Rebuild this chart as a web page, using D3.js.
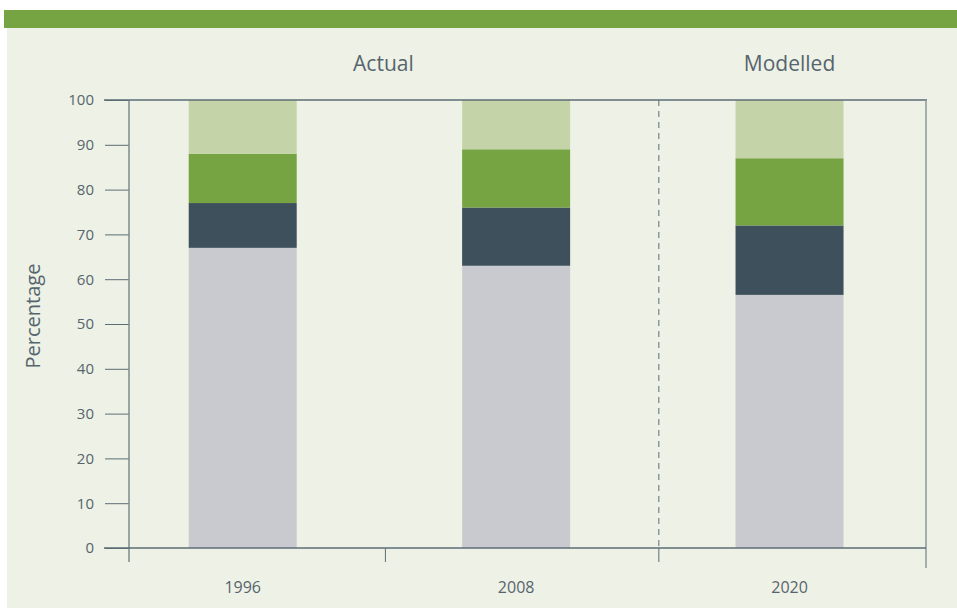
<!DOCTYPE html>
<html>
<head>
<meta charset="utf-8">
<script src="https://cdn.jsdelivr.net/npm/d3@7"></script>
<style>
  body { margin: 0; background: #fff; }
  text { font-family: "Open Sans", sans-serif; fill: #56656d; }
</style>
</head>
<body>
<div id="chart"></div>
<script>
// data
var years = ["1996", "2008", "2020"];
var layers = ["grey", "dark", "green", "light"];
var greyVals = [67, 63, 56.5];
var darkVals = [10, 13, 15.5];
var greenVals = [11, 13, 15];
var lightVals = [12, 11, 13];
var yTicks = [0, 10, 20, 30, 40, 50, 60, 70, 80, 90, 100];
var groupLabels = ["Actual", "Modelled"];

var colors = { grey: "#c9cacf", dark: "#3e505b", green: "#76a442", light: "#c5d4a8" };

var width = 957, height = 608;

var svg = d3.select("#chart")
    .append("svg")
    .attr("width", width)
    .attr("height", height);

// panel + top band
svg.append("rect").attr("x", 4).attr("y", 10).attr("width", 953).attr("height", 18).attr("fill", "#76a442");
svg.append("rect").attr("x", 7).attr("y", 28).attr("width", 950).attr("height", 580).attr("fill", "#eef1e6");

var rows = years.map(function (y, i) {
    return { year: y, grey: greyVals[i], dark: darkVals[i], green: greenVals[i], light: lightVals[i] };
});

// scales
var x = d3.scaleBand()
    .domain(years)
    .range([129, 926])
    .paddingInner(0.605)
    .paddingOuter(0.26)
    .align(0.42);

var y = d3.scaleLinear()
    .domain([0, 100])
    .range([548, 100]);

var stack = d3.stack().keys(layers)(rows);

var axisColor = "#5d6d74";

// bars
svg.append("g")
    .selectAll("g")
    .data(stack)
    .enter()
    .append("g")
    .attr("fill", function (d) { return colors[d.key]; })
    .selectAll("rect")
    .data(function (d) { return d; })
    .enter()
    .append("rect")
    .attr("x", function (d) { return x(d.data.year); })
    .attr("y", function (d) { return y(d[1]); })
    .attr("width", x.bandwidth())
    .attr("height", function (d) { return y(d[0]) - y(d[1]); });

// boundaries between the bands
var gap = x.step() * x.paddingInner();
var bounds = [x.range()[0]];
years.slice(0, -1).forEach(function (d) { bounds.push(x(d) + x.bandwidth() + gap / 2 + 6); });
bounds.push(x.range()[1]);

// dashed divider actual / modelled
svg.append("line")
    .attr("x1", bounds[2]).attr("x2", bounds[2])
    .attr("y1", y(100)).attr("y2", y(0))
    .attr("stroke", axisColor)
    .attr("stroke-width", 1)
    .attr("stroke-dasharray", "6,5");

// y axis
var yAxis = svg.append("g")
    .attr("transform", "translate(129,0)")
    .call(d3.axisLeft(y).tickValues(yTicks).tickSize(24).tickPadding(11));
yAxis.select(".domain").remove();
yAxis.selectAll(".tick line").attr("stroke", axisColor);
yAxis.selectAll(".tick text")
    .style("font-size", "15px")
    .style("font-family", "'Open Sans', sans-serif")
    .attr("fill", "#56656d");

// frame
svg.append("line").attr("x1", 129).attr("x2", 129).attr("y1", y(100)).attr("y2", 562)
    .attr("stroke", "#7d8a8f").attr("stroke-width", 1.5);
svg.append("line").attr("x1", 104).attr("x2", 927).attr("y1", y(100)).attr("y2", y(100))
    .attr("stroke", axisColor).attr("stroke-width", 1.5);
svg.append("line").attr("x1", 926).attr("x2", 926).attr("y1", y(100)).attr("y2", 568)
    .attr("stroke", "#8c979b").attr("stroke-width", 1.5);
svg.append("line").attr("x1", 104).attr("x2", 926).attr("y1", y(0)).attr("y2", y(0))
    .attr("stroke", axisColor).attr("stroke-width", 1.5);

// x boundary ticks
svg.append("g")
    .selectAll("line")
    .data(bounds.slice(1, 3))
    .enter()
    .append("line")
    .attr("x1", function (d) { return d; })
    .attr("x2", function (d) { return d; })
    .attr("y1", y(0))
    .attr("y2", 562)
    .attr("stroke", axisColor);

// category labels
svg.append("g")
    .selectAll("text")
    .data(years)
    .enter()
    .append("text")
    .attr("x", function (d) { return x(d) + x.bandwidth() / 2; })
    .attr("y", 593)
    .attr("text-anchor", "middle")
    .style("font-size", "16px")
    .text(function (d) { return d; });

// group headings
svg.append("text")
    .attr("x", (x("1996") + x("2008") + x.bandwidth()) / 2 + 4)
    .attr("y", 71)
    .attr("text-anchor", "middle")
    .style("font-size", "21px")
    .text(groupLabels[0]);
svg.append("text")
    .attr("x", x("2020") + x.bandwidth() / 2)
    .attr("y", 71)
    .attr("text-anchor", "middle")
    .style("font-size", "21px")
    .text(groupLabels[1]);

// y title
svg.append("text")
    .attr("transform", "translate(40,316) rotate(-90)")
    .attr("text-anchor", "middle")
    .style("font-size", "20px")
    .text("Percentage");
</script>
</body>
</html>
